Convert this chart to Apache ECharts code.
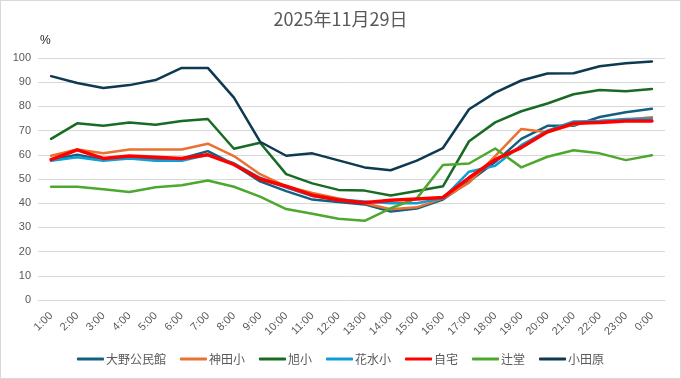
<!DOCTYPE html>
<html><head><meta charset="utf-8">
<script src="https://cdn.jsdelivr.net/npm/echarts@6/dist/echarts.min.js"></script>
<style>html,body{margin:0;padding:0;background:#fff}#c{width:679px;height:377px;border:1px solid #d9d9d9}</style>
</head><body><div id="c"></div>
<script>
const categories = ['1:00','2:00','3:00','4:00','5:00','6:00','7:00','8:00','9:00','10:00','11:00','12:00','13:00','14:00','15:00','16:00','17:00','18:00','19:00','20:00','21:00','22:00','23:00','0:00'];
const oono   = [58,60,58,59,58,58.5,61.5,56,49,45,41.5,40.5,39.5,36.6,37.8,41.5,49,57,66.6,72,72,75.6,77.6,79];
const kanda  = [59.6,62.2,60.6,62.2,62.2,62.2,64.6,59.5,52,47,44.2,42,40,37.5,38.3,42,48.5,59.5,70.7,69.3,72.5,74,74.5,75.5];
const asahi  = [66.6,73,72,73.3,72.4,74,74.8,62.5,65,52,48.2,45.5,45.2,43.2,45,47,65.6,73.4,78,81.2,85,86.8,86.3,87.2];
const hanami = [57.5,59,57.5,58.5,57.5,57.5,60,56.5,50.5,46.5,43,41.5,40.7,40,40,42,53,55.5,64,70,73.8,74,74.8,75];
const jitaku = [58,62,58.5,59.5,59,58.5,60,56,50,47,43.3,41.3,40.2,41.2,41.7,42.4,50.5,58,63,69.5,73,73.3,74,74];
const tsuji  = [46.8,46.8,45.8,44.6,46.6,47.4,49.4,46.8,42.7,37.6,35.6,33.6,32.7,37.9,42,55.8,56.4,62.6,54.8,59.2,61.9,60.6,57.8,59.8];
const odawara= [92.5,89.7,87.6,88.8,90.9,95.9,95.9,83.6,65.4,59.6,60.6,57.7,54.8,53.6,57.6,62.8,78.8,85.7,90.7,93.6,93.7,96.6,97.8,98.6];
const seriesNames = ['大野公民館','神田小','旭小','花水小','自宅','辻堂','小田原'];
const seriesData = [oono,kanda,asahi,hanami,jitaku,tsuji,odawara];
const colors = ['#156082','#E97132','#196B24','#0F9ED5','#FF0000','#4EA72E','#0D3A50'];
const widths = [2.5,2.5,2.5,2.5,3.5,2.5,2.5];
const chart = echarts.init(document.getElementById('c'));
chart.setOption({
  animation:false,
  color:colors,
  title:{text:'2025年11月29日',left:'center',top:4,textStyle:{fontSize:18,fontWeight:'normal',color:'#595959',fontFamily:'Noto Sans CJK JP'}},
  grid:{left:37,right:15,top:57,bottom:78},
  legend:{left:'center',top:347,icon:'roundRect',itemWidth:27,itemHeight:3,itemGap:14,
    textStyle:{fontSize:12,color:'#595959',fontFamily:'Noto Sans CJK JP',padding:[0,0,0,-3]},
    data:seriesNames},
  xAxis:{type:'category',data:categories,boundaryGap:true,
    axisLine:{lineStyle:{color:'#d9d9d9'}},axisTick:{show:false},
    axisLabel:{rotate:45,interval:0,fontSize:11,color:'#595959',margin:14,fontFamily:'Liberation Sans'}},
  yAxis:{type:'value',min:0,max:100,interval:10,name:'%',nameLocation:'end',nameGap:11,
    nameTextStyle:{color:'#262626',fontSize:12,align:'left',padding:[0,0,0,2]},
    axisLine:{show:false},axisTick:{show:false},
    splitLine:{lineStyle:{color:'#d9d9d9'}},
    axisLabel:{fontSize:11,color:'#595959',margin:7,fontFamily:'Liberation Sans'}},
  series:seriesNames.map((n,i)=>({name:n,type:'line',data:seriesData[i],showSymbol:false,symbol:'none',
    lineStyle:{width:widths[i],color:colors[i],cap:'round',join:'round'},z:i===4?5:2}))
});
</script></body></html>
